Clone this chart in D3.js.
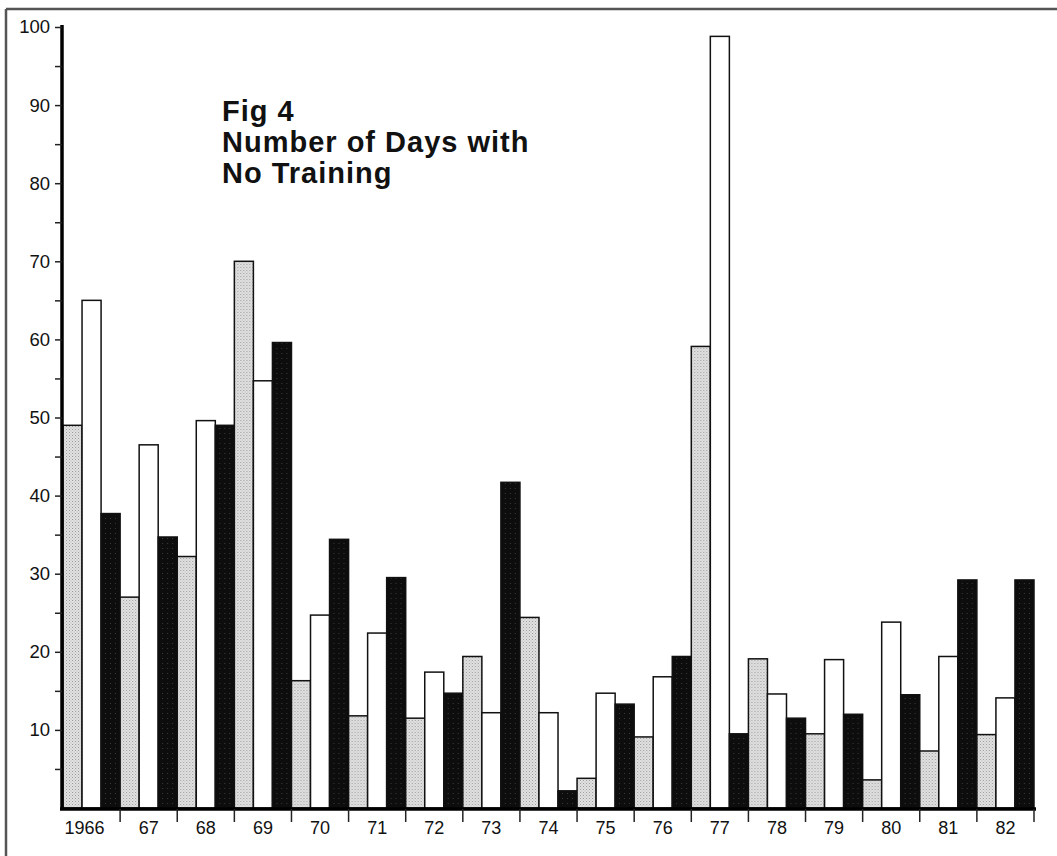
<!DOCTYPE html>
<html>
<head>
<meta charset="utf-8">
<script src="https://cdn.jsdelivr.net/npm/d3@7"></script>
<style>
  body { margin: 0; background: #fff; }
  svg { display: block; }
  text { font-family: "Liberation Sans", Arial, Helvetica, sans-serif; fill: #111; }
</style>
</head>
<body>
<svg id="chart" width="1057" height="856"></svg>
<script>
// --- data ---
const years = ["1966", "67", "68", "69", "70", "71", "72", "73", "74", "75", "76", "77", "78", "79", "80", "81", "82"];
const seriesLight = [49, 27, 32.2, 70, 16.3, 11.8, 11.5, 19.4, 24.4, 3.8, 9.1, 59.1, 19.1, 9.5, 3.6, 7.3, 9.4];
const seriesWhite = [65, 46.5, 49.6, 54.7, 24.7, 22.4, 17.4, 12.2, 12.2, 14.7, 16.8, 98.8, 14.6, 19, 23.8, 19.4, 14.1];
const seriesDark = [37.7, 34.7, 49, 59.6, 34.4, 29.5, 14.7, 41.7, 2.2, 13.3, 19.4, 9.5, 11.5, 12, 14.5, 29.2, 29.2];
const yTicks = [10, 20, 30, 40, 50, 60, 70, 80, 90, 100];
const titleLines = ["Fig 4", "Number of Days with", "No Training"];

const seriesKeys = ["light", "white", "dark"];
const rows = years.map((y, i) => ({year: y, light: seriesLight[i], white: seriesWhite[i], dark: seriesDark[i]}));

// layout (plot box in page pixels)
const plotLeft = 63, plotRight = 1034, plotTop = 27, plotBottom = 808;

const svg = d3.select("#chart");
const defs = svg.append("defs");

// stipple for the light grey bars
const stip = defs.append("pattern")
    .attr("id", "stipple")
    .attr("width", 3).attr("height", 3)
    .attr("patternUnits", "userSpaceOnUse");
stip.append("rect").attr("width", 3).attr("height", 3).attr("fill", "#e2e2e2");
stip.append("rect").attr("x", 0).attr("y", 0).attr("width", 1).attr("height", 1).attr("fill", "#9a9a9a");
stip.append("rect").attr("x", 1.5).attr("y", 1.5).attr("width", 1).attr("height", 1).attr("fill", "#b5b5b5");

// speckled black
const dk = defs.append("pattern")
    .attr("id", "darkfill")
    .attr("width", 5).attr("height", 5)
    .attr("patternUnits", "userSpaceOnUse");
dk.append("rect").attr("width", 5).attr("height", 5).attr("fill", "#0d0d0d");
dk.append("rect").attr("x", 2).attr("y", 3).attr("width", 1).attr("height", 1).attr("fill", "#3a3a3a");

const fills = {light: "url(#stipple)", white: "#fff", dark: "url(#darkfill)"};

// frame of the scanned page
svg.append("line").attr("x1", 6).attr("x2", 1057).attr("y1", 9).attr("y2", 9)
    .attr("stroke", "#555").attr("stroke-width", 2.5);
svg.append("line").attr("x1", 6).attr("x2", 6).attr("y1", 9).attr("y2", 856)
    .attr("stroke", "#555").attr("stroke-width", 2.5);

const x = d3.scaleBand().domain(years).range([plotLeft, plotRight]).padding(0);
const xs = d3.scaleBand().domain(seriesKeys).range([0, x.bandwidth()]).padding(0);
const y = d3.scaleLinear().domain([0, 100]).range([plotBottom, plotTop]);

// bars
const groups = svg.append("g").selectAll("g")
    .data(rows)
    .join("g")
    .attr("transform", d => `translate(${x(d.year)},0)`);

groups.selectAll("rect")
    .data(d => seriesKeys.map(k => ({key: k, value: d[k]})))
    .join("rect")
    .attr("x", d => xs(d.key))
    .attr("y", d => y(d.value))
    .attr("width", xs.bandwidth())
    .attr("height", d => y(0) - y(d.value))
    .attr("fill", d => fills[d.key])
    .attr("stroke", "#111")
    .attr("stroke-width", 1.5);

// y axis: labelled ticks every 10, minor every 5
const yAxis = svg.append("g")
    .attr("transform", `translate(${plotLeft - 1},0)`)
    .call(d3.axisLeft(y).tickValues(d3.range(5, 101, 5)).tickSize(7).tickPadding(5)
        .tickFormat(d => yTicks.includes(d) ? d : ""));
yAxis.select(".domain").attr("d", `M0,${plotTop - 2}V${plotBottom + 1}`).attr("stroke", "#000").attr("stroke-width", 3.5);
yAxis.selectAll(".tick line").attr("stroke", "#222").attr("stroke-width", 1.5);
yAxis.selectAll(".tick text").attr("font-size", 18.5).attr("fill", "#111")
    .style("font-family", "'Liberation Sans', Arial, sans-serif");

// x axis: ticks at group boundaries, labels centred
const xAxis = svg.append("g").attr("transform", `translate(0,${plotBottom + 1})`);
xAxis.append("line").attr("x1", plotLeft - 3).attr("x2", plotRight + 2)
    .attr("stroke", "#000").attr("stroke-width", 3.5);
xAxis.selectAll(".sep")
    .data(years.slice(1).map(d => x(d)).concat([plotRight]))
    .join("line")
    .attr("class", "sep")
    .attr("x1", d => d).attr("x2", d => d)
    .attr("y1", 0).attr("y2", 13)
    .attr("stroke", "#222").attr("stroke-width", 1.5);
xAxis.selectAll(".yl")
    .data(years)
    .join("text")
    .attr("class", "yl")
    .attr("x", (d, i) => x(d) + x.bandwidth() / 2 - (i === 0 ? 7 : 0))
    .attr("y", 25)
    .attr("text-anchor", "middle")
    .attr("font-size", 18)
    .text(d => d);

// title block (tight leading like the original)
svg.append("g").selectAll("text")
    .data(titleLines)
    .join("text")
    .attr("x", 222)
    .attr("y", (d, i) => 121 + i * 31)
    .attr("font-size", 29)
    .attr("font-weight", "bold")
    .attr("letter-spacing", 1)
    .text(d => d);
</script>
</body>
</html>
